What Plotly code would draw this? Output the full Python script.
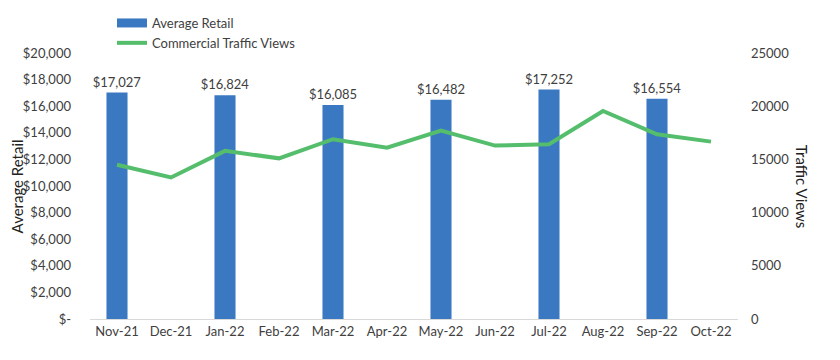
import plotly.graph_objects as go

months = ["Nov-21", "Dec-21", "Jan-22", "Feb-22", "Mar-22", "Apr-22",
          "May-22", "Jun-22", "Jul-22", "Aug-22", "Sep-22", "Oct-22"]
average_retail = [17027, None, 16824, None, 16085, None,
                  16482, None, 17252, None, 16554, None]
traffic_views = [14500, 13300, 15800, 15100, 16900, 16100,
                 17700, 16300, 16420, 19550, 17360, 16670]
left_ticks = [0, 2000, 4000, 6000, 8000, 10000, 12000, 14000, 16000, 18000, 20000]
left_tick_text = ["$-", "$2,000", "$4,000", "$6,000", "$8,000", "$10,000",
                  "$12,000", "$14,000", "$16,000", "$18,000", "$20,000"]
right_ticks = [0, 5000, 10000, 15000, 20000, 25000]

font = "Lato, Calibri, Carlito, 'Noto Sans', sans-serif"
grey = "#404040"
bar_color = "#3A78C2"

labels = [f"${v:,}" if v is not None else "" for v in average_retail]

fig = go.Figure()
fig.add_trace(go.Bar(
    x=months, y=average_retail, name="Average Retail",
    marker=dict(color=bar_color, line=dict(width=0)),
    text=labels, textposition="outside", cliponaxis=False,
    constraintext="none",
    textfont=dict(size=13, color=grey, family=font),
    width=0.39, showlegend=False,
))
# legend swatch for the bars (wide rectangle, as in the original)
fig.add_trace(go.Scatter(
    x=[None], y=[None], name="Average Retail", mode="lines",
    line=dict(color=bar_color, width=9), showlegend=True,
))
fig.add_trace(go.Scatter(
    x=months, y=traffic_views, name="Commercial Traffic Views",
    mode="lines", line=dict(color="#55BE6C", width=4), yaxis="y2",
))

fig.update_layout(
    width=832, height=352,
    margin=dict(l=82, r=102, t=45, b=41, autoexpand=False),
    paper_bgcolor="white", plot_bgcolor="white",
    font=dict(family=font, size=13, color=grey),
    showlegend=True,
    legend=dict(x=0.125, y=1.005, xref="container", yref="container",
                xanchor="left", yanchor="top",
                orientation="v", bgcolor="rgba(0,0,0,0)",
                font=dict(size=13, color=grey, family=font),
                tracegroupgap=0, itemwidth=30),
    xaxis=dict(showgrid=False, showline=True, linecolor="#D9D9D9", linewidth=1,
               ticks="", tickfont=dict(size=13, color=grey), zeroline=False),
    yaxis=dict(range=[0, 20000], tickvals=left_ticks, ticktext=left_tick_text,
               showgrid=False, zeroline=False, showline=False, ticks="",
               ticklabelstandoff=18,
               tickfont=dict(size=13, color=grey)),
    yaxis2=dict(range=[0, 25000], tickvals=right_ticks, overlaying="y", side="right",
                showgrid=False, zeroline=False, showline=False, ticks="",
                tickformat="d", ticklabelstandoff=12,
                tickfont=dict(size=13, color=grey)),
    annotations=[
        dict(text="Average Retail", xref="paper", yref="paper", x=-0.112, y=0.5,
             xanchor="center", yanchor="middle", textangle=-90, showarrow=False,
             font=dict(size=15, color="#222", family=font)),
        dict(text="Traffic Views", xref="paper", yref="paper", x=1.099, y=0.5,
             xanchor="center", yanchor="middle", textangle=90, showarrow=False,
             font=dict(size=15, color="#222", family=font)),
    ],
)

fig.write_html("out.html")
